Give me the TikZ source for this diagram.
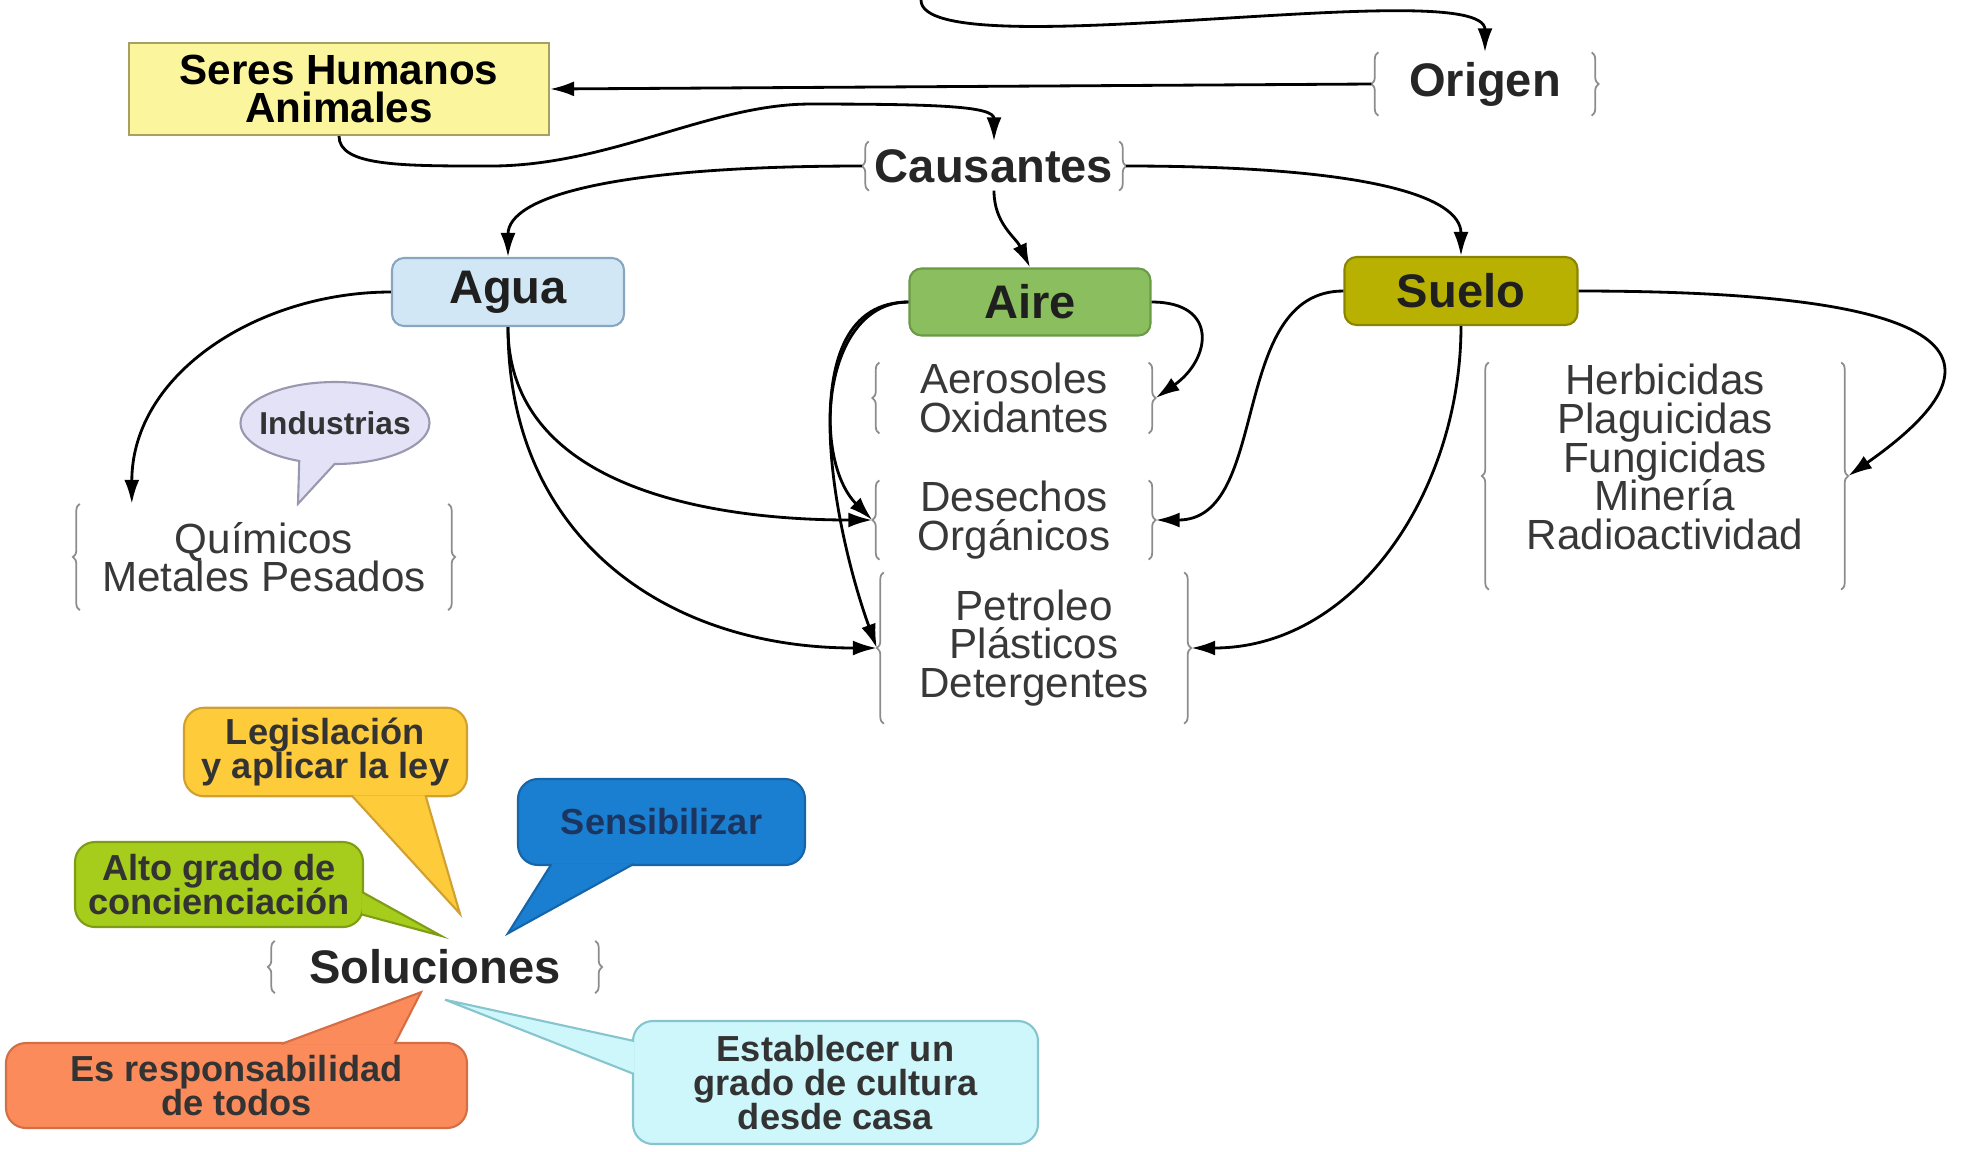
\documentclass[tikz,border=0pt]{standalone}
\usepackage{fontspec}
\setmainfont{Liberation Sans}
\usepackage{xcolor}
\usepackage{tikz}
\usetikzlibrary{shapes.geometric, shapes.callouts, arrows, arrows.meta, decorations.pathreplacing}

\definecolor{seresfondo}{HTML}{FBF69E}
\definecolor{seresborde}{HTML}{A8A060}
\definecolor{aguafondo}{HTML}{D2E7F5}
\definecolor{aguaborde}{HTML}{88A6BF}
\definecolor{airefondo}{HTML}{8BBE5E}
\definecolor{aireborde}{HTML}{6A9A45}
\definecolor{suelofondo}{HTML}{B8B102}
\definecolor{sueloborde}{HTML}{8A8500}
\definecolor{indfondo}{HTML}{E4E2F6}
\definecolor{indborde}{HTML}{9A98B0}
\definecolor{legisfondo}{HTML}{FECB3A}
\definecolor{legisborde}{HTML}{D0A030}
\definecolor{sensifondo}{HTML}{1A7FD0}
\definecolor{sensiborde}{HTML}{1565A8}
\definecolor{sensitexto}{HTML}{1C3560}
\definecolor{altofondo}{HTML}{A6CD1B}
\definecolor{altoborde}{HTML}{7E9C15}
\definecolor{respfondo}{HTML}{FB8B5B}
\definecolor{respborde}{HTML}{D56E44}
\definecolor{estabfondo}{HTML}{CEF7FB}
\definecolor{estabborde}{HTML}{86C4CE}
\definecolor{gris}{HTML}{8C8C8C}
\definecolor{gristexto}{HTML}{383838}

\tikzstyle{caja} = [rectangle, rounded corners=0.12cm, minimum width=2.32cm, minimum height=0.68cm, text centered, draw, line width=0.6pt, font=\fontsize{13.4}{13}\selectfont\bfseries, text=black!88]
\tikzstyle{titulo} = [rectangle, inner sep=0pt, font=\fontsize{13.4}{13}\selectfont\bfseries, text=black!85]
\tikzstyle{grupo} = [rectangle, align=center, inner sep=0pt, text=gristexto, font=\fontsize{12}{11}\selectfont\setlength{\lineskiplimit}{-20pt}]
\tikzstyle{globo} = [rectangle, rounded corners=0.2cm, draw, line width=0.6pt, inner sep=0.1cm, align=center, font=\fontsize{10.3}{9.8}\selectfont\bfseries, text=black!80]
\tikzstyle{cola} = [line width=0.6pt]
\tikzstyle{llave} = [decorate, decoration={brace, amplitude=0.07cm, raise=-0.07cm}, draw=gris, line width=0.5pt]
\tikzstyle{arrow} = [thick,->,>={Latex[length=2.4mm,width=1.5mm]}]

\newcommand{\llaves}[1]{%
  \draw [llave] (#1.south west) -- (#1.north west);
  \draw [llave] (#1.north east) -- (#1.south east);}

\begin{document}
\begin{tikzpicture}[node distance=1.22cm]
    \useasboundingbox (0,0) rectangle (19.65,-11.51);
    \coordinate (cima) at (9.21,0);
    \node (seres) [rectangle, draw=seresborde, fill=seresfondo, line width=0.6pt, minimum width=4.2cm, minimum height=0.86cm, align=center, font=\fontsize{12}{11}\selectfont\bfseries] at (3.39,-0.89) {Seres Humanos\\Animales};
    \node (origen) [titulo, minimum width=2.26cm, minimum height=0.62cm] at (14.85,-0.84) {Origen};
    \llaves{origen}
    \draw [arrow] (cima) .. controls +(0,-0.7) and +(0,0.8) .. (origen.north);
    \draw [arrow] (origen.west) -- (seres.east);
    \node (causantes) [titulo, minimum width=2.63cm, minimum height=0.48cm] at (9.94,-1.66) {Causantes};
    \llaves{causantes}
    \draw [arrow] (seres.south) .. controls +(0,-0.3) and +(-0.9,0) .. ++(1.51,-0.30) .. controls +(1.2,0) and +(-1.0,0) .. ++(3.2,0.62) .. controls +(1.3,0) and +(0,0.35) .. (causantes.north);

    \node (agua) [caja, fill=aguafondo, draw=aguaborde] at (5.08,-2.92) {Agua};
    \node (aire) [caja, fill=airefondo, draw=aireborde, minimum width=2.41cm, minimum height=0.67cm] at (10.30,-3.02) {Aire};
    \node (suelo) [caja, fill=suelofondo, draw=sueloborde, minimum width=2.33cm] at (14.61,-2.91) {Suelo};
    \draw [arrow] (causantes.west) .. controls +(-2.5,0) and +(0,0.6) .. (agua.north);
    \draw [arrow] (causantes.south) to[out=-90,in=115] (aire.north);
    \draw [arrow] (causantes.east) .. controls +(2.4,0) and +(0,0.6) .. (suelo.north);

    \node (quimicos) [grupo, minimum width=3.81cm, minimum height=1.05cm] at (2.64,-5.57) {Químicos\\Metales Pesados};
    \llaves{quimicos}
    \node (industrias) [ellipse callout, callout absolute pointer={([xshift=0.34cm]quimicos.north)}, callout pointer arc=22, draw=indborde, fill=indfondo, line width=0.6pt, minimum width=1.89cm, minimum height=0.82cm, inner sep=0pt, font=\fontsize{9}{9}\selectfont\bfseries, text=black!80] at (3.35,-4.23) {\makebox[1.2cm]{Industrias}};
    \node (aerosoles) [grupo, minimum width=2.82cm, minimum height=0.69cm] at (10.14,-3.98) {Aerosoles\\Oxidantes};
    \llaves{aerosoles}
    \node (desechos) [grupo, minimum width=2.82cm, minimum height=0.69cm, below of=aerosoles] {Desechos\\Orgánicos};
    \llaves{desechos}
    \node (petroleo) [grupo, minimum width=3.13cm, minimum height=1.50cm, below of=desechos, node distance=1.28cm, xshift=0.2cm] {Petroleo\\Plásticos\\Detergentes};
    \llaves{petroleo}
    \node (herbicidas) [grupo, minimum width=3.65cm, minimum height=2.26cm, text depth=0.38cm] at (16.65,-4.76) {Herbicidas\\Plaguicidas\\Fungicidas\\Minería\\Radioactividad};
    \llaves{herbicidas}

    \draw [arrow] (agua.west) to[out=180,in=90] ([xshift=0.59cm]quimicos.north west);
    \draw [arrow] (agua.south) to[out=-90,in=180] (desechos.west);
    \draw [arrow] (agua.south) to[out=-90,in=180,looseness=1.1] (petroleo.west);
    \draw [arrow] (aire.east) to[out=0,in=35,looseness=1.8] (aerosoles.east);
    \draw [arrow] (aire.west) to[out=180,in=135] (desechos.west);
    \draw [arrow] (aire.west) to[out=180,in=110,looseness=0.9] (petroleo.west);
    \draw [arrow] (suelo.west) to[out=180,in=0] (desechos.east);
    \draw [arrow] (suelo.south) to[out=-90,in=0] (petroleo.east);
    \draw [arrow] (suelo.east) .. controls +(3.2,0) and +(2.0,1.4) .. (herbicidas.east);

    \node (soluciones) [titulo, minimum width=3.33cm, minimum height=0.51cm] at (4.35,-9.67) {Soluciones};
    \llaves{soluciones}
    \node (legislacion) [globo, fill=legisfondo, draw=legisborde, minimum width=2.83cm, minimum height=0.82cm] at (3.255,-7.52) {Legislación\\y aplicar la ley};
    \filldraw [cola, fill=legisfondo, draw=legisborde] ([shift={(0.26,0.02)}]legislacion.south) -- ([shift={(0.25,0.27)}]soluciones.north) -- ([shift={(1.0,0.02)}]legislacion.south);
    \node (sensibilizar) [globo, fill=sensifondo, draw=sensiborde, text=sensitexto, minimum width=2.87cm, minimum height=0.86cm] at (6.615,-8.22) {Sensibilizar};
    \filldraw [cola, fill=sensifondo, draw=sensiborde] ([shift={(-1.1,0.02)}]sensibilizar.south) -- ([shift={(0.73,0.075)}]soluciones.north) -- ([shift={(-0.28,0.02)}]sensibilizar.south);
    \node (alto) [globo, fill=altofondo, draw=altoborde, minimum width=2.88cm, minimum height=0.85cm] at (2.19,-8.845) {Alto grado de\\concienciación};
    \filldraw [cola, fill=altofondo, draw=altoborde] ([shift={(-0.02,-0.075)}]alto.east) -- ([shift={(0.06,0.05)}]soluciones.north) -- ([shift={(-0.02,-0.30)}]alto.east);
    \node (responsabilidad) [globo, fill=respfondo, draw=respborde, minimum width=4.61cm, minimum height=0.85cm] at (2.365,-10.855) {Es responsabilidad\\de todos};
    \filldraw [cola, fill=respfondo, draw=respborde] ([shift={(0.45,-0.02)}]responsabilidad.north) -- ([shift={(-0.14,0.01)}]soluciones.south) -- ([shift={(1.58,-0.02)}]responsabilidad.north);
    \node (establecer) [globo, fill=estabfondo, draw=estabborde, minimum width=4.05cm, minimum height=1.23cm] at (8.355,-10.825) {Establecer un\\grado de cultura\\desde casa};
    \filldraw [cola, fill=estabfondo, draw=estabborde] ([shift={(0.02,-0.21)}]establecer.north west) -- ([shift={(0.10,-0.065)}]soluciones.south) -- ([shift={(0.02,-0.54)}]establecer.north west);
\end{tikzpicture}
\end{document}
